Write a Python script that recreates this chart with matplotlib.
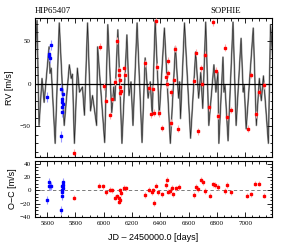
import matplotlib
matplotlib.use('Agg')
from matplotlib import pyplot as plt
from matplotlib.ticker import MultipleLocator

# Curva del modelo (vertices)
modelo_dias = [5514, 5529, 5543, 5564, 5579, 5614, 5621, 5629, 5657, 5686,
               5721, 5757, 5771, 5779, 5793, 5814, 5829, 5850, 5864, 5886,
               5907, 5921, 5950, 5957, 6007, 6029, 6057, 6071, 6079, 6100,
               6129, 6164, 6179, 6193, 6207, 6236, 6271, 6293, 6314, 6329,
               6343, 6364, 6393, 6429, 6471, 6507, 6529, 6536, 6543, 6571,
               6614, 6650, 6671, 6686, 6700, 6721, 6743, 6779, 6793, 6807,
               6814, 6843, 6850, 6857, 6879, 6914, 6936, 6971, 6986, 6993,
               7007, 7057, 7079, 7100, 7114, 7129, 7164, 7179, 7207]
modelo_rv = [27, 74, -49, 6, -22, 43, 12, 18, -70, 71,
             -49, 22, 6, 11, -70, 18, -10, -4, -37, 71,
             -32, -14, -49, 43, -69, 69, -34, -4, -20, 63,
             -70, 57, -14, 2, -49, 71, -69, 30, -17, 2,
             -37, 74, -37, 65, -70, 43, -17, 2, -41, 71,
             -64, 37, -17, 13, -29, 72, -49, 22, -10, 13,
             -70, 31, -10, -2, -67, 72, -49, 53, -10, -2,
             -53, 65, -49, 6, -20, 9, -70, 69, 2]

# Datos azules (primer conjunto)
azul_dias = [5596, 5611, 5614, 5618, 5625, 5700, 5704, 5707, 5707, 5704, 5711, 5700, 5711]
azul_rv = [-16, 32, 35, 30, 45, -6, -18, -22, -28, -33, -12, -62, -24]
azul_oc_dias = [5596, 5611, 5614, 5621, 5625, 5700, 5702, 5704, 5706, 5707, 5709, 5711, 5712]
azul_oc = [-14, 13, 6, 6, 6, -29, -9, -2, 1, 6, 8, 4, 13]

# Datos rojos (SOPHIE)
rojo_dias = [5788, 5971, 6000, 6013, 6043, 6061, 6079, 6091, 6109, 6111,
             6114, 6116, 6120, 6118, 6145, 6154, 6294, 6320, 6334, 6351,
             6357, 6371, 6379, 6391, 6413, 6441, 6446, 6452, 6457, 6477,
             6479, 6497, 6504, 6527, 6640, 6651, 6667, 6691, 6696, 6719,
             6747, 6769, 6791, 6806, 6856, 6868, 6899, 7018, 7041, 7073,
             7101, 7132]
rojo_rv = [-81, 43, -3, -20, -37, -18, 2, 50, 16, 10,
           4, -4, -9, -11, 18, 10, 24, -5, -36, -6,
           -34, 73, 20, -35, -52, 8, -1, 12, 27, -46,
           -10, 4, 41, -53, 3, 36, -56, 18, 0, 34,
           -28, 72, 15, -38, 42, -39, -31, -53, 10, -36,
           -10, -2]
rojo_oc_dias = [5788, 5969, 5998, 6014, 6045, 6062, 6081, 6093, 6109, 6111,
                6114, 6121, 6116, 6145, 6157, 6295, 6319, 6338, 6350, 6357,
                6369, 6386, 6414, 6441, 6450, 6452, 6469, 6481, 6493, 6509,
                6529, 6641, 6652, 6666, 6688, 6700, 6719, 6748, 6771, 6790,
                6807, 6857, 6869, 6898, 7016, 7040, 7071, 7100, 7131]
rojo_oc = [-11, 7, 6, -3, 1, 0, -11, -9, -12, -17,
           -15, -4, 0, 4, 3, -7, 1, -3, 0, -19,
           7, -3, -6, 8, 16, -2, -1, 4, -6, 3,
           5, -7, 5, 2, 16, 12, -1, -8, 9, 8,
           5, -1, 8, -3, -8, -6, 10, 10, -8]

err_azul = 6
err_rojo = 4

fuente_ticks = 'Liberation Serif'
fuente_ejes = 'Liberation Sans'

fig = plt.figure(figsize=(2.84, 2.48), dpi=100)
ax1 = fig.add_axes([0.123, 0.367, 0.835, 0.561])
ax2 = fig.add_axes([0.123, 0.125, 0.835, 0.226], sharex=ax1)

# Panel superior: curva y medidas
ax1.plot(modelo_dias, modelo_rv, color='0.6', lw=1.3, zorder=1)
ax1.plot(modelo_dias, modelo_rv, color='0.15', lw=0.45, zorder=2)
ax1.axhline(0, color='black', lw=0.9, zorder=3)
ax1.errorbar(azul_dias, azul_rv, yerr=err_azul, fmt='s', color='blue', ms=1.7,
             ecolor='#9a9aff', elinewidth=0.8, capsize=0, zorder=4)
ax1.errorbar(rojo_dias, rojo_rv, yerr=err_rojo, fmt='s', color='red', ms=1.7,
             ecolor='#ffa8a8', elinewidth=0.8, capsize=0, zorder=4)
ax1.set_ylim(-86, 77)
ax1.set_xlim(5514, 7190)
ax1.yaxis.set_major_locator(MultipleLocator(50))
ax1.yaxis.set_minor_locator(MultipleLocator(10))
ax1.set_ylabel('RV [m/s]', family=fuente_ejes, fontsize=6.5, labelpad=4)
ax1.tick_params(labelbottom=False)
ax1.text(0.0, 1.02, 'HIP65407', transform=ax1.transAxes, family=fuente_ticks,
         fontsize=6.3, ha='left', va='bottom')
ax1.text(0.87, 1.02, 'SOPHIE', transform=ax1.transAxes, family=fuente_ticks,
         fontsize=6.3, ha='right', va='bottom')

# Panel inferior: residuos
ax2.axhline(0, color='0.4', lw=0.6, ls=(0, (4, 3)), zorder=1)
ax2.errorbar(azul_oc_dias, azul_oc, yerr=err_azul, fmt='s', color='blue', ms=1.7,
             ecolor='#9a9aff', elinewidth=0.8, capsize=0, zorder=4)
ax2.errorbar(rojo_oc_dias, rojo_oc, yerr=err_rojo, fmt='s', color='red', ms=1.7,
             ecolor='#ffa8a8', elinewidth=0.8, capsize=0, zorder=4)
ax2.set_ylim(-40, 44)
ax2.yaxis.set_major_locator(MultipleLocator(20))
ax2.yaxis.set_minor_locator(MultipleLocator(5))
ax2.xaxis.set_major_locator(MultipleLocator(200))
ax2.xaxis.set_minor_locator(MultipleLocator(50))
ax2.set_ylabel('O\u2212C [m/s]', family=fuente_ejes, fontsize=6.5, labelpad=2)
ax2.set_xlabel('JD \u2013 2450000.0 [days]', family=fuente_ejes, fontsize=6.5, labelpad=5)

for ax in (ax1, ax2):
    ax.tick_params(which='both', direction='in', top=True, right=True,
                   width=0.6, labelsize=5, pad=3)
    ax.tick_params(which='major', length=3.5)
    ax.tick_params(which='minor', length=1.8)
    for lab in ax.get_xticklabels() + ax.get_yticklabels():
        lab.set_family(fuente_ticks)
    for s in ax.spines.values():
        s.set_linewidth(0.8)

fig.savefig('out.png', dpi=100)
